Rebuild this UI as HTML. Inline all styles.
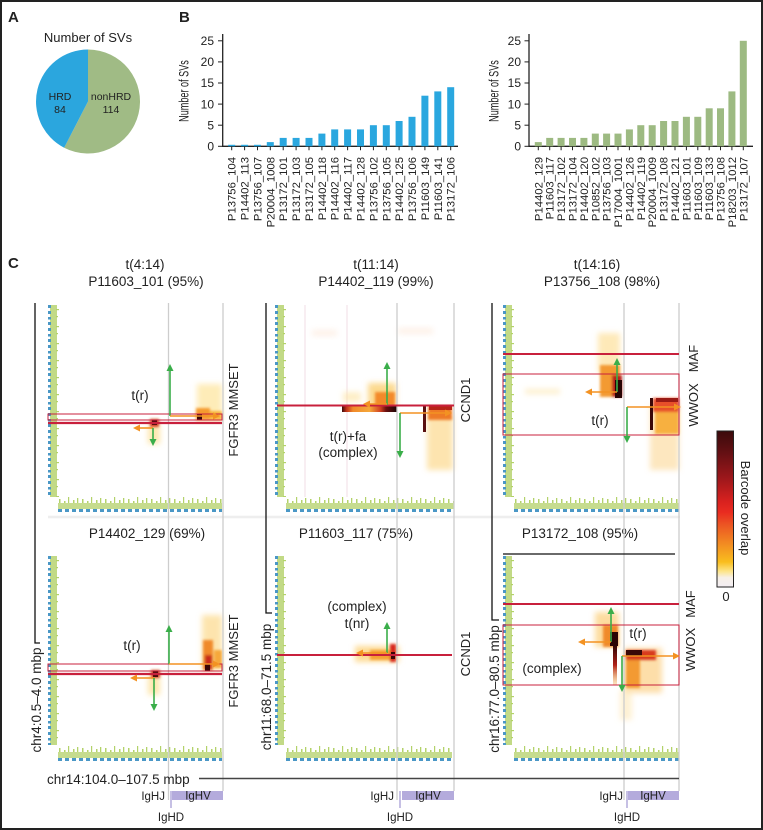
<!DOCTYPE html>
<html><head><meta charset="utf-8"><style>
html,body{margin:0;padding:0;background:#fff;}
svg{display:block;}
text{font-family:"Liberation Sans",Arial,sans-serif;fill:#222;}
</style></head><body>
<svg width="763" height="830" viewBox="0 0 763 830" xmlns="http://www.w3.org/2000/svg">
<defs>
<filter id="b1" x="-50%" y="-50%" width="200%" height="200%"><feGaussianBlur stdDeviation="1.2"/></filter>
<filter id="b2" x="-50%" y="-50%" width="200%" height="200%"><feGaussianBlur stdDeviation="2.8"/></filter>
<pattern id="gsp" width="23" height="12" patternUnits="userSpaceOnUse">
<rect x="0" y="6" width="23" height="6" fill="#c6dc8e"/>
<rect x="1" y="2" width="1.5" height="4" fill="#b3d26a"/><rect x="6" y="4" width="1.5" height="2" fill="#b3d26a"/>
<rect x="10" y="0" width="1.2" height="6" fill="#b3d26a"/><rect x="15" y="3" width="1.5" height="3" fill="#b3d26a"/>
<rect x="19" y="1" width="1.3" height="5" fill="#b3d26a"/>
</pattern>
<pattern id="hd" width="7" height="4" patternUnits="userSpaceOnUse"><rect width="4" height="3" fill="#4a97c6"/></pattern>
<pattern id="lsp" width="12" height="17" patternUnits="userSpaceOnUse">
<rect x="2" y="0" width="7" height="17" fill="#c2da86"/>
<rect x="0" y="0" width="3" height="3" fill="#4a97c6"/><rect x="0" y="6" width="3" height="3" fill="#4a97c6"/><rect x="0" y="12" width="3" height="2.5" fill="#4a97c6"/>
<rect x="8" y="4" width="3" height="1.2" fill="#b3d26a"/><rect x="8" y="11" width="2" height="1.2" fill="#b3d26a"/>
</pattern>
<linearGradient id="cb" x1="0" y1="0" x2="0" y2="1">
<stop offset="0" stop-color="#3b0a0c"/><stop offset="0.12" stop-color="#5e0f12"/><stop offset="0.3" stop-color="#9c171b"/>
<stop offset="0.45" stop-color="#d8211f"/><stop offset="0.52" stop-color="#e92b20"/><stop offset="0.6" stop-color="#ec5523"/>
<stop offset="0.72" stop-color="#f28a22"/><stop offset="0.84" stop-color="#f9be1e"/><stop offset="0.9" stop-color="#fde58a"/>
<stop offset="0.94" stop-color="#f7f0e8"/><stop offset="1" stop-color="#f3eef3"/>
</linearGradient>
<linearGradient id="gblk" x1="0" y1="0" x2="1" y2="0">
<stop offset="0" stop-color="#3a0a0a"/><stop offset="0.08" stop-color="#c03018"/><stop offset="0.2" stop-color="#f08a2a"/>
<stop offset="0.5" stop-color="#f5a83a"/><stop offset="0.7" stop-color="#d04020"/><stop offset="0.8" stop-color="#6a1010"/><stop offset="1" stop-color="#1a0404"/>
</linearGradient>
<linearGradient id="gdn" x1="0" y1="0" x2="0" y2="1">
<stop offset="0" stop-color="#2a0505"/><stop offset="0.5" stop-color="#b02018"/><stop offset="1" stop-color="#f5b040" stop-opacity="0.3"/>
</linearGradient>
</defs>

<rect x="1" y="1" width="761" height="828" fill="#fff" stroke="#222" stroke-width="2"/>

<text x="8" y="22" font-size="15" font-weight="bold">A</text>
<text x="179" y="22" font-size="15" font-weight="bold">B</text>
<text x="8" y="268" font-size="15" font-weight="bold">C</text>

<!-- Panel A pie -->
<text x="88" y="42" font-size="13" text-anchor="middle">Number of SVs</text>
<path d="M88,101.5 L88,49.5 A52,52 0 1,1 64.15,147.7 Z" fill="#a0bb85"/>
<path d="M88,101.5 L64.15,147.7 A52,52 0 0,1 88,49.5 Z" fill="#2ba6de"/>
<text x="60" y="100" font-size="10.5" text-anchor="middle">HRD</text>
<text x="60" y="113" font-size="10.5" text-anchor="middle">84</text>
<text x="111" y="100" font-size="10.5" text-anchor="middle">nonHRD</text>
<text x="111" y="113" font-size="10.5" text-anchor="middle">114</text>

<!-- Panel B left -->
<g>
<text transform="translate(188.5,91) rotate(-90) scale(0.65,1)" font-size="14" text-anchor="middle">Number of SVs</text>
<line x1="222.7" y1="34" x2="222.7" y2="146.3" stroke="#222" stroke-width="1.3"/>
<line x1="222" y1="146.3" x2="458" y2="146.3" stroke="#222" stroke-width="1.3"/>
<g stroke="#222" stroke-width="1">
<line x1="218" y1="146.3" x2="222.7" y2="146.3"/><line x1="218" y1="125.2" x2="222.7" y2="125.2"/>
<line x1="218" y1="104.1" x2="222.7" y2="104.1"/><line x1="218" y1="83" x2="222.7" y2="83"/>
<line x1="218" y1="61.9" x2="222.7" y2="61.9"/><line x1="218" y1="40.8" x2="222.7" y2="40.8"/>
</g>
<g font-size="12" text-anchor="end">
<text x="214" y="150.5">0</text><text x="214" y="129.4">5</text><text x="214" y="108.3">10</text>
<text x="214" y="87.2">15</text><text x="214" y="66.1">20</text><text x="214" y="45">25</text>
</g>
<g fill="#2aa7df">
<rect x="228.2" y="144.8" width="7" height="1.5"/><rect x="241.1" y="144.8" width="7" height="1.5"/><rect x="254" y="144.8" width="7" height="1.5"/>
<rect x="266.8" y="142.1" width="7" height="4.2"/><rect x="279.7" y="137.9" width="7" height="8.4"/><rect x="292.6" y="137.9" width="7" height="8.4"/>
<rect x="305.5" y="137.9" width="7" height="8.4"/><rect x="318.4" y="133.6" width="7" height="12.7"/><rect x="331.2" y="129.4" width="7" height="16.9"/>
<rect x="344.1" y="129.4" width="7" height="16.9"/><rect x="357" y="129.4" width="7" height="16.9"/><rect x="369.9" y="125.2" width="7" height="21.1"/>
<rect x="382.8" y="125.2" width="7" height="21.1"/><rect x="395.6" y="121" width="7" height="25.3"/><rect x="408.5" y="116.8" width="7" height="29.5"/>
<rect x="421.4" y="95.7" width="7" height="50.6"/><rect x="434.3" y="91.4" width="7" height="54.9"/><rect x="447.2" y="87.2" width="7" height="59.1"/>
</g>
<g stroke="#222" stroke-width="1">
<path d="M231.7,146.3v4M244.6,146.3v4M257.5,146.3v4M270.3,146.3v4M283.2,146.3v4M296.1,146.3v4M309,146.3v4M321.9,146.3v4M334.7,146.3v4M347.6,146.3v4M360.5,146.3v4M373.4,146.3v4M386.3,146.3v4M399.1,146.3v4M412,146.3v4M424.9,146.3v4M437.8,146.3v4M450.7,146.3v4"/>
</g>
<g font-size="11.3" text-anchor="end">
<text transform="translate(235.7,157) rotate(-90)">P13756_104</text>
<text transform="translate(248.6,157) rotate(-90)">P14402_113</text>
<text transform="translate(261.5,157) rotate(-90)">P13756_107</text>
<text transform="translate(274.3,157) rotate(-90)">P20004_1008</text>
<text transform="translate(287.2,157) rotate(-90)">P13172_101</text>
<text transform="translate(300.1,157) rotate(-90)">P13172_103</text>
<text transform="translate(313,157) rotate(-90)">P13172_105</text>
<text transform="translate(325.9,157) rotate(-90)">P14402_118</text>
<text transform="translate(338.7,157) rotate(-90)">P14402_116</text>
<text transform="translate(351.6,157) rotate(-90)">P14402_117</text>
<text transform="translate(364.5,157) rotate(-90)">P14402_128</text>
<text transform="translate(377.4,157) rotate(-90)">P13756_102</text>
<text transform="translate(390.3,157) rotate(-90)">P13756_105</text>
<text transform="translate(403.1,157) rotate(-90)">P14402_125</text>
<text transform="translate(416,157) rotate(-90)">P13756_106</text>
<text transform="translate(428.9,157) rotate(-90)">P11603_149</text>
<text transform="translate(441.8,157) rotate(-90)">P11603_141</text>
<text transform="translate(454.7,157) rotate(-90)">P13172_106</text>
</g>
</g>

<!-- Panel B right -->
<g>
<text transform="translate(498.5,91) rotate(-90) scale(0.65,1)" font-size="14" text-anchor="middle">Number of SVs</text>
<line x1="529" y1="34" x2="529" y2="146.3" stroke="#222" stroke-width="1.3"/>
<line x1="528.5" y1="146.3" x2="753" y2="146.3" stroke="#222" stroke-width="1.3"/>
<g stroke="#222" stroke-width="1">
<line x1="524.5" y1="146.3" x2="529" y2="146.3"/><line x1="524.5" y1="125.2" x2="529" y2="125.2"/>
<line x1="524.5" y1="104.1" x2="529" y2="104.1"/><line x1="524.5" y1="83" x2="529" y2="83"/>
<line x1="524.5" y1="61.9" x2="529" y2="61.9"/><line x1="524.5" y1="40.8" x2="529" y2="40.8"/>
</g>
<g font-size="12" text-anchor="end">
<text x="521" y="150.5">0</text><text x="521" y="129.4">5</text><text x="521" y="108.3">10</text>
<text x="521" y="87.2">15</text><text x="521" y="66.1">20</text><text x="521" y="45">25</text>
</g>
<g fill="#9dba82">
<rect x="534.8" y="142.1" width="7" height="4.2"/><rect x="546.2" y="137.9" width="7" height="8.4"/><rect x="557.6" y="137.9" width="7" height="8.4"/>
<rect x="569" y="137.9" width="7" height="8.4"/><rect x="580.4" y="137.9" width="7" height="8.4"/><rect x="591.8" y="133.6" width="7" height="12.7"/>
<rect x="603.1" y="133.6" width="7" height="12.7"/><rect x="614.5" y="133.6" width="7" height="12.7"/><rect x="625.9" y="129.4" width="7" height="16.9"/>
<rect x="637.3" y="125.2" width="7" height="21.1"/><rect x="648.7" y="125.2" width="7" height="21.1"/><rect x="660.1" y="121" width="7" height="25.3"/>
<rect x="671.5" y="121" width="7" height="25.3"/><rect x="682.9" y="116.8" width="7" height="29.5"/><rect x="694.3" y="116.8" width="7" height="29.5"/>
<rect x="705.7" y="108.3" width="7" height="38"/><rect x="717" y="108.3" width="7" height="38"/><rect x="728.4" y="91.4" width="7" height="54.9"/>
<rect x="739.8" y="40.8" width="7" height="105.5"/>
</g>
<g stroke="#222" stroke-width="1">
<path d="M538.3,146.3v4M549.7,146.3v4M561.1,146.3v4M572.5,146.3v4M583.9,146.3v4M595.3,146.3v4M606.6,146.3v4M618,146.3v4M629.4,146.3v4M640.8,146.3v4M652.2,146.3v4M663.6,146.3v4M675,146.3v4M686.4,146.3v4M697.8,146.3v4M709.2,146.3v4M720.5,146.3v4M731.9,146.3v4M743.3,146.3v4"/>
</g>
<g font-size="11.3" text-anchor="end">
<text transform="translate(542.3,157) rotate(-90)">P14402_129</text>
<text transform="translate(553.7,157) rotate(-90)">P11603_117</text>
<text transform="translate(565.1,157) rotate(-90)">P13172_102</text>
<text transform="translate(576.5,157) rotate(-90)">P13172_104</text>
<text transform="translate(587.9,157) rotate(-90)">P14402_120</text>
<text transform="translate(599.3,157) rotate(-90)">P10852_102</text>
<text transform="translate(610.6,157) rotate(-90)">P13756_103</text>
<text transform="translate(622,157) rotate(-90)">P17004_1001</text>
<text transform="translate(633.4,157) rotate(-90)">P14402_126</text>
<text transform="translate(644.8,157) rotate(-90)">P14402_119</text>
<text transform="translate(656.2,157) rotate(-90)">P20004_1009</text>
<text transform="translate(667.6,157) rotate(-90)">P13172_108</text>
<text transform="translate(679,157) rotate(-90)">P14402_121</text>
<text transform="translate(690.4,157) rotate(-90)">P11603_101</text>
<text transform="translate(701.8,157) rotate(-90)">P11603_109</text>
<text transform="translate(713.2,157) rotate(-90)">P11603_133</text>
<text transform="translate(724.5,157) rotate(-90)">P13756_108</text>
<text transform="translate(735.9,157) rotate(-90)">P18203_1012</text>
<text transform="translate(747.3,157) rotate(-90)">P13172_107</text>
</g>
</g>

<!-- ===== Panel C ===== -->
<g font-size="13.5" text-anchor="middle">
<text x="145" y="269">t(4:14)</text><text x="146" y="286">P11603_101 (95%)</text>
<text x="376" y="269">t(11:14)</text><text x="376" y="286">P14402_119 (99%)</text>
<text x="597" y="269">t(14:16)</text><text x="602" y="286">P13756_108 (98%)</text>
<text x="147" y="538">P14402_129 (69%)</text>
<text x="356" y="538">P11603_117 (75%)</text>
<text x="580" y="538">P13172_108 (95%)</text>
</g>

<line x1="48" y1="517" x2="680" y2="517" stroke="#eeeeee" stroke-width="2.5"/>

<g>
<g transform="translate(48,305)"><rect width="12" height="192" fill="url(#lsp)"/></g>
<g transform="translate(58,497)"><rect width="164" height="12" fill="url(#gsp)"/></g>
<g transform="translate(58,509)"><rect width="164" height="3" fill="url(#hd)"/></g>
<g transform="translate(275,305)"><rect width="12" height="192" fill="url(#lsp)"/></g>
<g transform="translate(286,497)"><rect width="168" height="12" fill="url(#gsp)"/></g>
<g transform="translate(286,509)"><rect width="168" height="3" fill="url(#hd)"/></g>
<g transform="translate(503,305)"><rect width="12" height="192" fill="url(#lsp)"/></g>
<g transform="translate(514,497)"><rect width="165" height="12" fill="url(#gsp)"/></g>
<g transform="translate(514,509)"><rect width="165" height="3" fill="url(#hd)"/></g>

<g transform="translate(48,556)"><rect width="12" height="189" fill="url(#lsp)"/></g>
<g transform="translate(58,746)"><rect width="164" height="12" fill="url(#gsp)"/></g>
<g transform="translate(58,758)"><rect width="164" height="3" fill="url(#hd)"/></g>
<g transform="translate(275,556)"><rect width="12" height="189" fill="url(#lsp)"/></g>
<g transform="translate(286,746)"><rect width="166" height="12" fill="url(#gsp)"/></g>
<g transform="translate(286,758)"><rect width="166" height="3" fill="url(#hd)"/></g>
<g transform="translate(503,556)"><rect width="12" height="189" fill="url(#lsp)"/></g>
<g transform="translate(514,746)"><rect width="165" height="12" fill="url(#gsp)"/></g>
<g transform="translate(514,758)"><rect width="165" height="3" fill="url(#hd)"/></g>
</g>

<g opacity="0.12" stroke="#b05070" stroke-width="1.5">
<line x1="305" y1="305" x2="305" y2="497"/><line x1="347" y1="305" x2="347" y2="497"/>
</g>
<g filter="url(#b2)" opacity="0.18">
<rect x="312" y="330" width="25" height="6" fill="#f5b080"/><rect x="398" y="328" width="35" height="6" fill="#f5b080"/>
</g>

<!-- col1 top -->
<g filter="url(#b2)">
<rect x="197" y="384" width="25" height="36" fill="#fde6a0" opacity="0.75"/>
<rect x="148" y="424" width="12" height="20" fill="#fbd77a" opacity="0.6"/>
</g>
<g filter="url(#b1)">
<rect x="196" y="408" width="14" height="12" fill="#f59a2e"/>
<rect x="210" y="411" width="12" height="9" fill="#f7b43a"/>
<rect x="150" y="419" width="9" height="8" fill="#d0401f"/>
</g>
<rect x="197" y="414" width="5" height="6" fill="#3a0808"/>
<rect x="152" y="420" width="5" height="5" fill="#4a0c0c"/>

<!-- col1 bottom -->
<g filter="url(#b2)">
<rect x="202" y="615" width="20" height="55" fill="#fcd98a" opacity="0.7"/>
<rect x="148" y="675" width="12" height="20" fill="#fbd77a" opacity="0.6"/>
</g>
<g filter="url(#b1)">
<rect x="203" y="640" width="10" height="30" fill="#f08a2a"/>
<rect x="205" y="655" width="7" height="15" fill="#c82a1c"/>
<rect x="214" y="650" width="8" height="18" fill="#f6a83a"/>
<rect x="151" y="670" width="9" height="8" fill="#d0401f"/>
</g>
<rect x="205" y="664" width="5" height="7" fill="#3a0808"/>
<rect x="153" y="671" width="5" height="6" fill="#4a0c0c"/>

<!-- col2 top -->
<g filter="url(#b2)">
<rect x="368" y="383" width="28" height="24" fill="#fbcf72" opacity="0.8"/>
<rect x="343" y="392" width="18" height="10" fill="#fde3a0" opacity="0.6"/>
<rect x="427" y="415" width="26" height="55" fill="#fcd27a" opacity="0.6"/>
</g>
<g filter="url(#b1)">
<rect x="375" y="392" width="20" height="14" fill="#f38a2a"/>
<rect x="428" y="406" width="24" height="14" fill="#ee7a28"/>
</g>
<rect x="342" y="406" width="55" height="6" fill="url(#gblk)"/>
<rect x="423" y="406" width="3" height="26" fill="#5a1010"/>
<rect x="429" y="406" width="23" height="4" fill="#b82418"/>

<!-- col2 bottom -->
<g filter="url(#b2)"><rect x="355" y="646" width="44" height="16" fill="#fcd27a" opacity="0.8"/></g>
<g filter="url(#b1)">
<rect x="370" y="650" width="22" height="10" fill="#f5a030"/>
<rect x="390" y="644" width="6" height="18" fill="#d8281c"/>
</g>
<rect x="391" y="652" width="4" height="7" fill="#3a0606"/>

<!-- col3 top -->
<g filter="url(#b2)">
<rect x="598" y="333" width="22" height="40" fill="#fde09a" opacity="0.7"/>
<rect x="525" y="389" width="35" height="5" fill="#fce4a8" opacity="0.6"/>
<rect x="650" y="405" width="29" height="65" fill="#fcd48a" opacity="0.55"/>
</g>
<g filter="url(#b1)">
<rect x="600" y="365" width="20" height="32" fill="#f39a30"/>
<rect x="612" y="375" width="10" height="22" fill="#b8241a"/>
<rect x="653" y="398" width="26" height="14" fill="#e8502a"/>
<rect x="655" y="412" width="24" height="22" fill="#f7b040"/>
</g>
<rect x="615" y="380" width="7" height="18" fill="#280505"/>
<rect x="650" y="398" width="3" height="32" fill="#3a0808"/>
<rect x="656" y="398" width="22" height="4" fill="#9a1a14"/>

<!-- col3 bottom -->
<g filter="url(#b2)">
<rect x="595" y="612" width="24" height="35" fill="#fcd080" opacity="0.75"/>
<rect x="624" y="648" width="38" height="45" fill="#fbc870" opacity="0.6"/>
<rect x="620" y="690" width="12" height="30" fill="#fde8b8" opacity="0.6"/>
</g>
<g filter="url(#b1)">
<rect x="603" y="625" width="15" height="22" fill="#f08a2a"/>
<rect x="626" y="650" width="30" height="10" fill="#d83a1e"/>
<rect x="626" y="660" width="14" height="28" fill="#f39a30"/>
</g>
<rect x="610" y="632" width="8" height="14" fill="#2a0505"/>
<rect x="613" y="645" width="4" height="40" fill="url(#gdn)"/>
<rect x="626" y="650" width="16" height="6" fill="#3a0808"/>

<g stroke="#cdcdcd" stroke-width="1.3">
<line x1="168.5" y1="303" x2="168.5" y2="800"/><line x1="223" y1="303" x2="223" y2="791"/>
<line x1="397" y1="303" x2="397" y2="800"/><line x1="454" y1="303" x2="454" y2="791"/>
<line x1="624" y1="303" x2="624" y2="800"/><line x1="679" y1="303" x2="679" y2="791"/>
</g>

<g stroke="#111" stroke-width="1.3" fill="none">
<path d="M35,303 V643 H40"/>
<path d="M266,303 V613 H272"/>
<path d="M492,303 V620 H499"/>
<line x1="503" y1="554" x2="675" y2="554"/>
</g>
<line x1="199" y1="778.5" x2="679" y2="778.5" stroke="#444" stroke-width="1.5"/>

<g stroke="#c8203c" fill="none">
<rect x="48" y="414" width="174" height="6" stroke-width="1"/>
<line x1="48" y1="423" x2="222" y2="423" stroke-width="2.2"/>
<rect x="48" y="664" width="174" height="7" stroke-width="1"/>
<line x1="48" y1="674" x2="222" y2="674" stroke-width="2.2"/>
<line x1="277" y1="405.5" x2="454" y2="405.5" stroke-width="2"/>
<line x1="277" y1="655" x2="452" y2="655" stroke-width="2"/>
<line x1="503" y1="354" x2="679" y2="354" stroke-width="2"/>
<rect x="503" y="374" width="176" height="61" stroke-width="1"/>
<line x1="503" y1="604" x2="679" y2="604" stroke-width="2"/>
<rect x="503" y="625" width="176" height="60" stroke-width="1"/>
</g>

<g stroke-width="1.6">
<line x1="170" y1="416" x2="170" y2="371" stroke="#3aae4a"/><polygon points="170,364 166.5,371 173.5,371" fill="#3aae4a"/>
<line x1="170" y1="416" x2="213" y2="416" stroke="#f39222"/><polygon points="220,416 213,412.5 213,419.5" fill="#f39222"/>
<line x1="153" y1="428" x2="140" y2="428" stroke="#f39222"/><polygon points="133,428 140,424.5 140,431.5" fill="#f39222"/>
<line x1="153" y1="428" x2="153" y2="439" stroke="#3aae4a"/><polygon points="153,446 149.5,439 156.5,439" fill="#3aae4a"/>

<line x1="169" y1="664" x2="169" y2="632" stroke="#3aae4a"/><polygon points="169,625 165.5,632 172.5,632" fill="#3aae4a"/>
<line x1="169" y1="664" x2="213" y2="664" stroke="#f39222"/><polygon points="220,664 213,660.5 213,667.5" fill="#f39222"/>
<line x1="155" y1="678" x2="137" y2="678" stroke="#f39222"/><polygon points="130,678 137,674.5 137,681.5" fill="#f39222"/>
<line x1="154" y1="678" x2="154" y2="704" stroke="#3aae4a"/><polygon points="154,711 150.5,704 157.5,704" fill="#3aae4a"/>

<line x1="387" y1="405" x2="387" y2="369" stroke="#3aae4a"/><polygon points="387,362 383.5,369 390.5,369" fill="#3aae4a"/>
<line x1="387" y1="404" x2="370" y2="404" stroke="#f39222"/><polygon points="363,404 370,400.5 370,407.5" fill="#f39222"/>
<line x1="400" y1="413" x2="445" y2="413" stroke="#f39222"/><polygon points="452,413 445,409.5 445,416.5" fill="#f39222"/>
<line x1="400" y1="413" x2="400" y2="451" stroke="#3aae4a"/><polygon points="400,458 396.5,451 403.5,451" fill="#3aae4a"/>

<line x1="387" y1="653" x2="387" y2="629" stroke="#3aae4a"/><polygon points="387,622 383.5,629 390.5,629" fill="#3aae4a"/>
<line x1="387" y1="653" x2="363" y2="653" stroke="#f39222"/><polygon points="356,653 363,649.5 363,656.5" fill="#f39222"/>

<line x1="617" y1="392" x2="617" y2="365" stroke="#3aae4a"/><polygon points="617,358 613.5,365 620.5,365" fill="#3aae4a"/>
<line x1="617" y1="392" x2="592" y2="392" stroke="#f39222"/><polygon points="585,392 592,388.5 592,395.5" fill="#f39222"/>
<line x1="627" y1="407" x2="674" y2="407" stroke="#f39222"/><polygon points="681,407 674,403.5 674,410.5" fill="#f39222"/>
<line x1="627" y1="407" x2="627" y2="436" stroke="#3aae4a"/><polygon points="627,443 623.5,436 630.5,436" fill="#3aae4a"/>

<line x1="611" y1="642" x2="611" y2="614" stroke="#3aae4a"/><polygon points="611,607 607.5,614 614.5,614" fill="#3aae4a"/>
<line x1="611" y1="642" x2="585" y2="642" stroke="#f39222"/><polygon points="578,642 585,638.5 585,645.5" fill="#f39222"/>
<line x1="622" y1="656" x2="673" y2="656" stroke="#f39222"/><polygon points="680,656 673,652.5 673,659.5" fill="#f39222"/>
<line x1="622" y1="656" x2="622" y2="685" stroke="#3aae4a"/><polygon points="622,692 618.5,685 625.5,685" fill="#3aae4a"/>
</g>

<g font-size="13.5" text-anchor="middle">
<text x="140" y="400">t(r)</text>
<text x="132" y="650">t(r)</text>
<text x="348" y="441">t(r)+fa</text>
<text x="348" y="457">(complex)</text>
<text x="357" y="611">(complex)</text>
<text x="357" y="628">t(nr)</text>
<text x="600" y="425">t(r)</text>
<text x="638" y="638">t(r)</text>
<text x="552" y="673">(complex)</text>
</g>

<g font-size="13" text-anchor="middle">
<text transform="translate(238,410) rotate(-90)">FGFR3 MMSET</text>
<text transform="translate(238,661) rotate(-90)">FGFR3 MMSET</text>
<text transform="translate(470,400) rotate(-90)">CCND1</text>
<text transform="translate(470,654) rotate(-90)">CCND1</text>
<text transform="translate(698,358.5) rotate(-90)">MAF</text>
<text transform="translate(698,405) rotate(-90)">WWOX</text>
<text transform="translate(695,604) rotate(-90)">MAF</text>
<text transform="translate(695,649.5) rotate(-90)">WWOX</text>
</g>

<g font-size="13.5" text-anchor="middle">
<text transform="translate(41,700) rotate(-90)">chr4:0.5–4.0 mbp</text>
<text transform="translate(271,687) rotate(-90)">chr11:68.0–71.5 mbp</text>
<text transform="translate(499,689) rotate(-90)">chr16:77.0–80.5 mbp</text>
</g>
<text x="47" y="784" font-size="13.5">chr14:104.0–107.5 mbp</text>

<g fill="#b4abdc">
<rect x="172" y="791" width="51" height="9"/>
<rect x="402" y="791" width="52" height="9"/>
<rect x="628" y="791" width="51" height="9"/>
</g>
<g stroke="#a89ed6" stroke-width="1.3">
<line x1="171" y1="791" x2="171" y2="808"/>
<line x1="400" y1="791" x2="400" y2="808"/>
<line x1="627" y1="791" x2="627" y2="808"/>
</g>
<g font-size="11.5">
<text x="165" y="800" text-anchor="end">IgHJ</text>
<text x="198" y="799.5" text-anchor="middle">IgHV</text>
<text x="171" y="821" text-anchor="middle">IgHD</text>
<text x="394" y="800" text-anchor="end">IgHJ</text>
<text x="428" y="799.5" text-anchor="middle">IgHV</text>
<text x="400" y="821" text-anchor="middle">IgHD</text>
<text x="623" y="800" text-anchor="end">IgHJ</text>
<text x="653" y="799.5" text-anchor="middle">IgHV</text>
<text x="627" y="821" text-anchor="middle">IgHD</text>
</g>

<rect x="717" y="431" width="16.5" height="156" fill="url(#cb)" stroke="#222" stroke-width="1"/>
<text x="726" y="601" font-size="13" text-anchor="middle">0</text>
<text transform="translate(741,508) rotate(90)" font-size="13" text-anchor="middle">Barcode overlap</text>
</svg>
</body></html>
